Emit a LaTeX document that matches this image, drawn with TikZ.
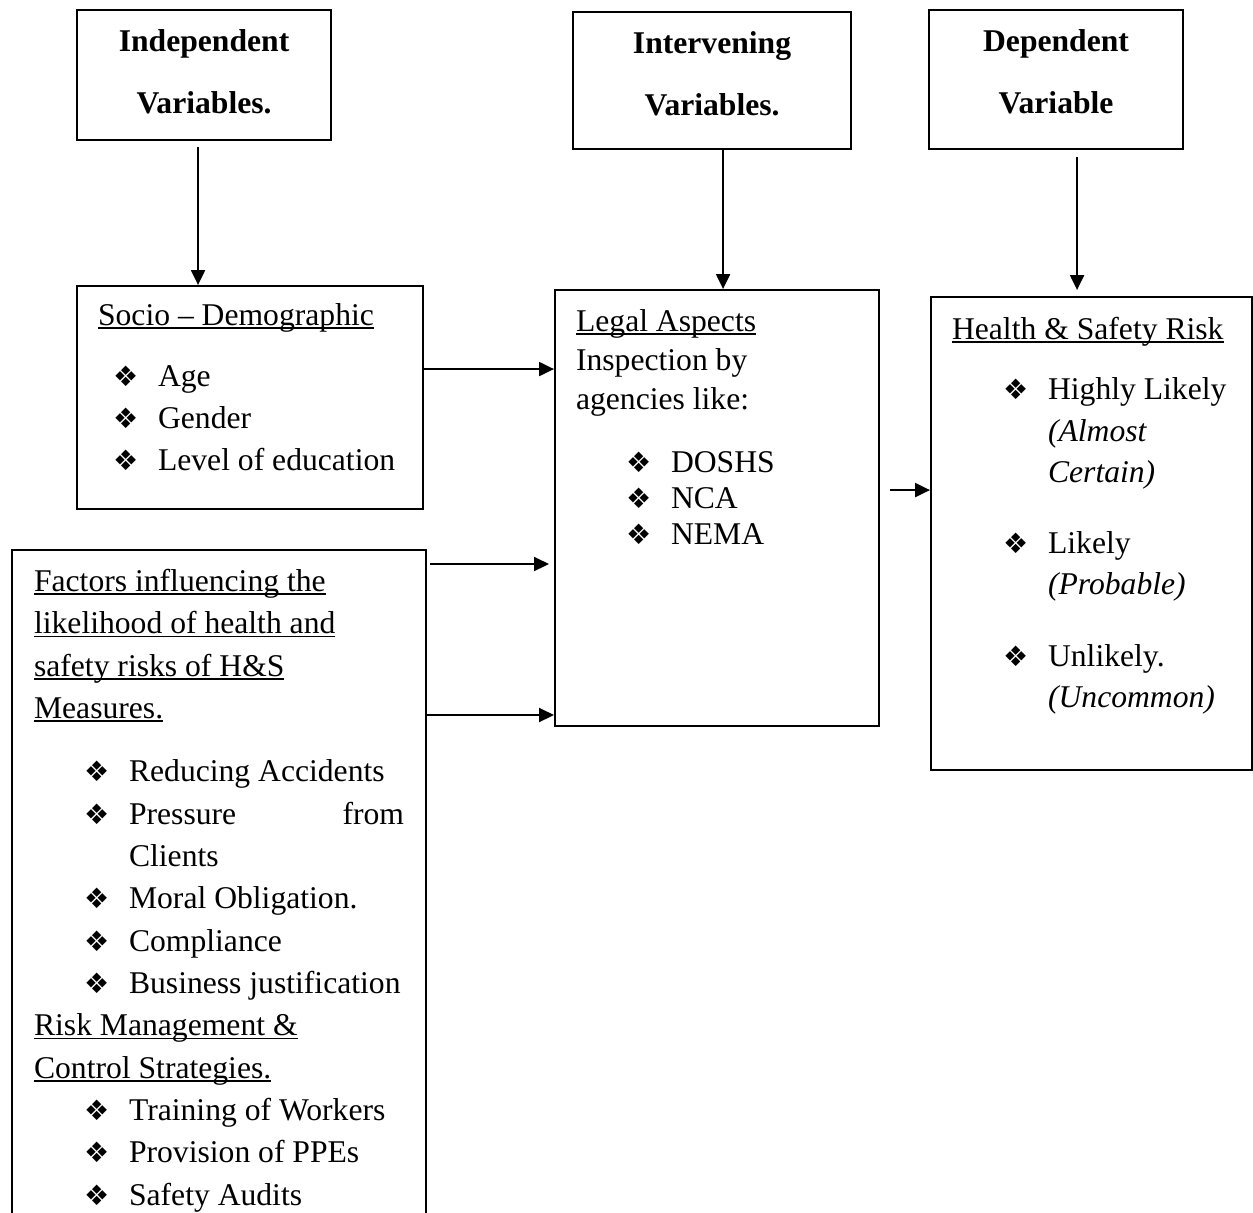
\documentclass[tikz,border=0pt]{standalone}
\usepackage{fontspec}
\setmainfont{Liberation Serif}
\newfontfamily\dingfont{DejaVu Sans}
\usetikzlibrary{arrows.meta,positioning}
\newcommand{\dia}{{\dingfont\fontsize{8}{8}\selectfont ❖}}
\newcommand{\itm}[2]{\hspace*{#1}\makebox[0.45cm][l]{\dia}#2}
\newsavebox{\undlbox}
\newcommand{\undl}[1]{\sbox{\undlbox}{#1}\rlap{\rule[-1pt]{\wd\undlbox}{0.45pt}}\usebox{\undlbox}}

\begin{document}
\begin{tikzpicture}[line width=0.6pt,
  box/.style={draw, anchor=north west, inner sep=0pt},
  head/.style={font=\fontsize{9}{17.6}\selectfont\bfseries, align=center, inner sep=0pt},
  body/.style={font=\fontsize{9}{12}\selectfont, align=left, inner sep=0pt},
  arr/.style={-{Triangle[length=0.15cm,width=0.14cm]}}]
  \useasboundingbox (0,0) rectangle (12.53,-12.12);
  % Headings
  \node[box, minimum width=2.54cm, minimum height=1.30cm] (indep) at (0.76,-0.09) {};
  \node[box, minimum width=2.78cm, minimum height=1.37cm] (interv) at (5.72,-0.11) {};
  \node[box, minimum width=2.54cm, minimum height=1.39cm] (dep) at (9.28,-0.09) {};
  \node[head] (indepT) at ([yshift=0.03cm]indep.center) {Independent\\Variables.};
  \node[head] (intervT) at ([yshift=0.07cm]interv.center) {Intervening\\Variables.};
  \node[head] (depT) at ([yshift=0.08cm]dep.center) {Dependent\\Variable};

  % Boxes
  \node[box, minimum width=3.46cm, minimum height=2.23cm] (socio) at (0.76,-2.85) {};
  \node[box, minimum width=3.24cm, minimum height=4.36cm] (legal) at (5.54,-2.89) {};
  \node[box, minimum width=3.21cm, minimum height=4.73cm] (health) at (9.30,-2.96) {};
  \node[box, minimum width=4.14cm, minimum height=7.2cm] (factors) at (0.11,-5.49) {};

  \node[body, below right=0.17cm and 0.21cm of socio.north west] (socioT) {%
    \undl{Socio – Demographic}\\[0.19cm]
    \itm{0.15cm}{Age}\\
    \itm{0.15cm}{Gender}\\
    \itm{0.15cm}{Level of education}};
  \node[body, font=\fontsize{9}{11.1}\selectfont, below right=0.19cm and 0.21cm of legal.north west] (legalT) {%
    \undl{Legal Aspects}\\
    Inspection by\\
    agencies like:\\[0.24cm]
    \itm{0.50cm}{DOSHS}\\[-0.03cm]
    \itm{0.50cm}{NCA}\\[-0.03cm]
    \itm{0.50cm}{NEMA}};
  \node[body, font=\fontsize{9}{11.8}\selectfont, below right=0.20cm and 0.21cm of health.north west] (healthT) {%
    \undl{Health \& Safety Risk}\\[0.19cm]
    \itm{0.51cm}{Highly Likely}\\
    \hspace*{0.96cm}\textit{(Almost}\\
    \hspace*{0.96cm}\textit{Certain)}\\[0.29cm]
    \itm{0.51cm}{Likely}\\
    \hspace*{0.96cm}\textit{(Probable)}\\[0.30cm]
    \itm{0.51cm}{Unlikely.}\\
    \hspace*{0.96cm}\textit{(Uncommon)}};
  \node[body, font=\fontsize{9}{12.05}\selectfont, below right=0.19cm and 0.22cm of factors.north west] (factorsT) {%
    \undl{Factors influencing the}\\
    \undl{likelihood of health and}\\
    \undl{safety risks of H\&S}\\
    \undl{Measures.}\\[0.21cm]
    \itm{0.50cm}{Reducing Accidents}\\
    \itm{0.50cm}{\makebox[2.75cm][l]{Pressure\hfill from}}\\
    \hspace*{0.95cm}Clients\\
    \itm{0.50cm}{Moral Obligation.}\\
    \itm{0.50cm}{Compliance}\\
    \itm{0.50cm}{Business justification}\\
    \undl{Risk Management \&}\\
    \undl{Control Strategies.}\\
    \itm{0.50cm}{Training of Workers}\\
    \itm{0.50cm}{Provision of PPEs}\\
    \itm{0.50cm}{Safety Audits}};

  % Arrows
  \coordinate (a1) at ([xshift=-0.06cm]indep.south);
  \coordinate (a2) at ([xshift=0.11cm]interv.south);
  \coordinate (a3) at ([xshift=0.21cm]dep.south);
  \coordinate (a4) at ([yshift=0.285cm]socio.east);
  \coordinate (a5) at ([shift={(0.03cm,-0.15cm)}]factors.north east);
  \coordinate (a6) at ([yshift=-1.66cm]factors.north east);
  \coordinate (a7) at ([shift={(0.10cm,0.18cm)}]legal.east);
  \draw[arr] ([yshift=-0.06cm]a1) -- (a1 |- socio.north);
  \draw[arr] (a2) -- (a2 |- legal.north);
  \draw[arr] ([yshift=-0.07cm]a3) -- ([yshift=0.06cm]a3 |- health.north);
  \draw[arr] (a4) -- (a4 -| legal.west);
  \draw[arr, shorten >=0.05cm] (a5) -- (a5 -| legal.west);
  \draw[arr] (a6) -- (a6 -| legal.west);
  \draw[arr] (a7) -- (a7 -| health.west);
\end{tikzpicture}
\end{document}
